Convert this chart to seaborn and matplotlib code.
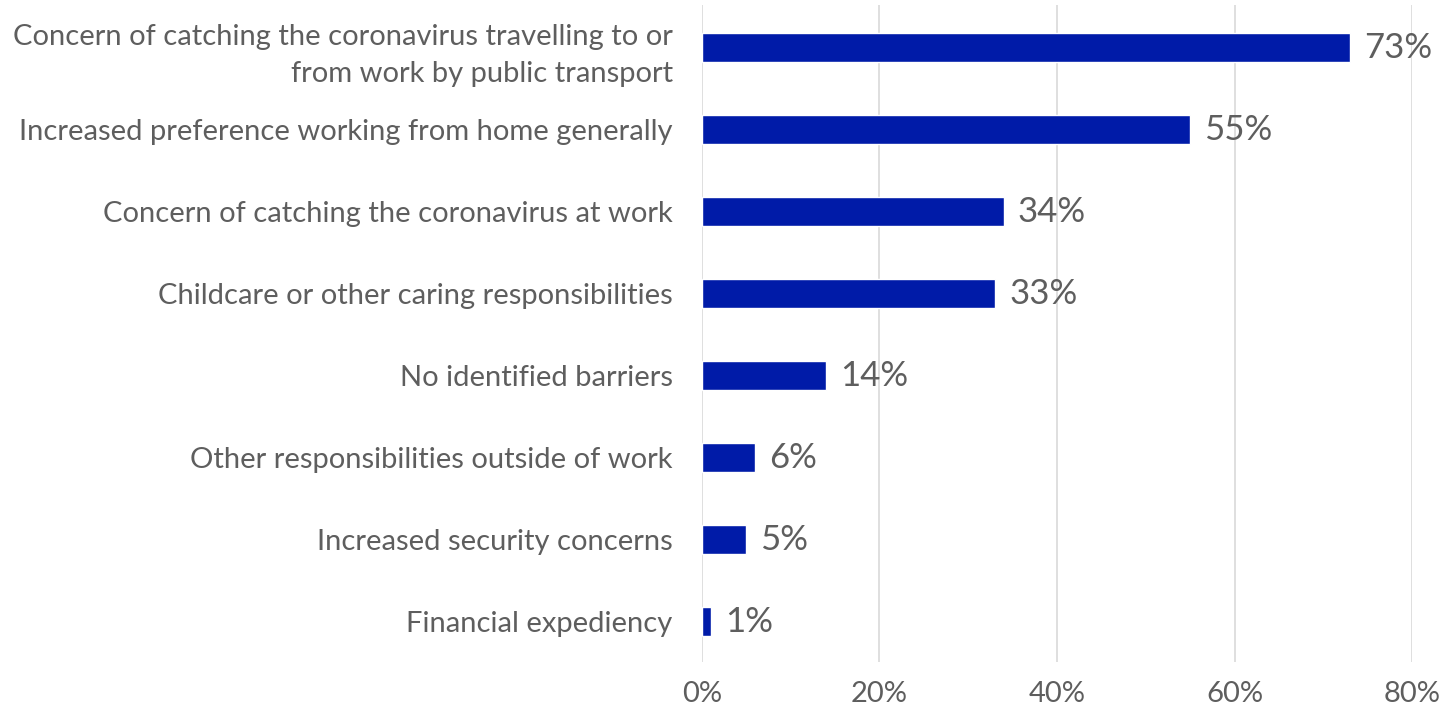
import matplotlib
matplotlib.use("Agg")
import matplotlib.pyplot as plt
import seaborn as sns
import pandas as pd

categories = [
    "Concern of catching the coronavirus travelling to or\nfrom work by public transport",
    "Increased preference working from home generally",
    "Concern of catching the coronavirus at work",
    "Childcare or other caring responsibilities",
    "No identified barriers",
    "Other responsibilities outside of work",
    "Increased security concerns",
    "Financial expediency",
]
values = [73, 55, 34, 33, 14, 6, 5, 1]
x_ticks = [0, 20, 40, 60, 80]

df = pd.DataFrame({"reason": categories, "share": values})

sns.set_theme(style="white")
plt.rcParams["font.family"] = ["Lato", "DejaVu Sans"]

text_color = "#5E5E5E"
bar_color = "#001BA8"

fig = plt.figure(figsize=(14.47, 7.14), dpi=100)
ax = fig.add_axes([0.485, 0.073, 0.491, 0.92])

sns.barplot(data=df, x="share", y="reason", orient="h", color=bar_color,
            width=0.36, saturation=1, ax=ax, zorder=3)

ax.set_xlim(0, 80)
ax.set_ylim(7.49, -0.52)
ax.set_xticks(x_ticks)
ax.set_xticklabels([f"{t}%" for t in x_ticks])
ax.tick_params(axis="x", labelsize=21, colors=text_color, length=0, pad=14)
ax.tick_params(axis="y", labelsize=21, colors=text_color, length=0, pad=21)
for lbl in ax.get_yticklabels():
    lbl.set_horizontalalignment("right")
    lbl.set_linespacing(1.5)
ax.set_xlabel("")
ax.set_ylabel("")

ax.grid(axis="x", color="#D9D9D9", linewidth=1.2, zorder=0)
ax.grid(axis="y", visible=False)
for s in ax.spines.values():
    s.set_visible(False)

for i, v in enumerate(values):
    ax.text(v + 1.6, i, f"{v}%", va="center", ha="left", fontsize=25,
            color=text_color, zorder=4)

fig.savefig("out.png", dpi=100)
